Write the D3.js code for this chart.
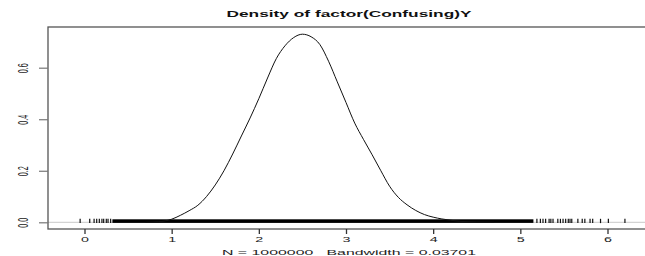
<!DOCTYPE html>
<html>
<head>
<meta charset="utf-8">
<script src="https://cdn.jsdelivr.net/npm/d3@7"></script>
<style>
  html, body { margin: 0; padding: 0; background: #fff; }
  svg { display: block; }
</style>
</head>
<body>
<div id="chart"></div>
<script>
// density estimate
var densX = [0.7, 0.85, 1.0, 1.1, 1.2, 1.3, 1.4, 1.5, 1.6, 1.7, 1.8, 1.9, 2.0, 2.1, 2.2, 2.3, 2.4, 2.5,
             2.6, 2.7, 2.8, 2.9, 3.0, 3.1, 3.2, 3.3, 3.4, 3.5, 3.6, 3.7, 3.8, 3.9, 4.0, 4.1, 4.2, 4.3, 4.5, 4.7];
var densY = [0, 0.002, 0.012, 0.027, 0.045, 0.066, 0.1, 0.145, 0.2, 0.265, 0.335, 0.405, 0.48, 0.56, 0.635, 0.685, 0.717, 0.73,
             0.72, 0.69, 0.625, 0.545, 0.465, 0.385, 0.322, 0.262, 0.2, 0.14, 0.097, 0.068, 0.046, 0.03, 0.02, 0.013, 0.008, 0.004, 0.001, 0];

// rug: a dense run plus loose ticks at both ends
var rugDense = [0.32, 5.15];
var rugLeft = [-0.05, 0.06, 0.11, 0.14, 0.17, 0.2, 0.22, 0.25, 0.27, 0.3];
var rugRight = [5.19, 5.23, 5.26, 5.29, 5.33, 5.35, 5.375, 5.43, 5.46, 5.49, 5.52, 5.55, 5.57, 5.59,
                5.66, 5.71, 5.74, 5.80, 5.83, 5.92, 6.01, 6.2];

var xTicks = [0, 1, 2, 3, 4, 5, 6];
var yTicks = [0, 0.2, 0.4, 0.6];
var mainTitle = "Density of factor(Confusing)Y";
var subTitle = "N = 1000000   Bandwidth = 0.03701";

var width = 645, height = 256;
var font = "'Liberation Sans', Arial, Helvetica, sans-serif";
var squash = 0.55;

var svg = d3.select("#chart").append("svg")
    .attr("width", width).attr("height", height);

var x = d3.scaleLinear().domain([0, 6]).range([84.5, 607.5]);
var y = d3.scaleLinear().domain([0, 0.6]).range([222.3, 67.7]);

var box = { left: 48, top: 27, bottom: 229, right: 670 };

// zero line
svg.append("line")
    .attr("x1", box.left).attr("x2", box.right)
    .attr("y1", y(0)).attr("y2", y(0))
    .attr("stroke", "#c8c8c8").attr("stroke-width", 1);

// rug
svg.append("rect")
    .attr("x", x(rugDense[0])).attr("width", x(rugDense[1]) - x(rugDense[0]))
    .attr("y", y(0) - 3).attr("height", 3.6)
    .attr("fill", "#000");

svg.append("g").selectAll("line")
    .data(rugLeft.concat(rugRight))
    .enter().append("line")
    .attr("x1", function(d) { return x(d); })
    .attr("x2", function(d) { return x(d); })
    .attr("y1", y(0) - 3.5).attr("y2", y(0) + 0.8)
    .attr("stroke", "#111").attr("stroke-width", 1.2);

// density curve
var pts = densX.map(function(d, i) { return [d, densY[i]]; });
svg.append("path")
    .datum(pts)
    .attr("fill", "none")
    .attr("stroke", "#111")
    .attr("stroke-width", 1)
    .attr("d", d3.line()
        .x(function(d) { return x(d[0]); })
        .y(function(d) { return y(d[1]); })
        .curve(d3.curveMonotoneX));

// box
svg.append("rect")
    .attr("x", box.left).attr("y", box.top)
    .attr("width", box.right - box.left).attr("height", box.bottom - box.top)
    .attr("fill", "none").attr("stroke", "#555").attr("stroke-width", 1.3);

// x axis
var xAxis = svg.append("g")
    .attr("transform", "translate(0," + box.bottom + ")")
    .call(d3.axisBottom(x).tickValues(xTicks).tickSizeOuter(0).tickSize(5).tickFormat(d3.format("d")));
xAxis.select(".domain").remove();
xAxis.selectAll("line").attr("stroke", "#333").attr("stroke-width", 1.3);
xAxis.selectAll("text")
    .attr("y", 0).attr("dy", 0)
    .attr("transform", "translate(0,13) scale(1.1," + squash + ")")
    .attr("font-family", font).attr("font-size", 13).attr("fill", "#222");

// y axis
var yAxis = svg.append("g")
    .attr("transform", "translate(" + box.left + ",0)")
    .call(d3.axisLeft(y).tickValues(yTicks).tickSizeOuter(0).tickSize(9).tickFormat(d3.format(".1f")));
yAxis.select(".domain").remove();
yAxis.selectAll("line").attr("stroke", "#777").attr("stroke-width", 1.2);
yAxis.selectAll("text")
    .attr("x", 0).attr("dy", 0)
    .attr("text-anchor", "middle")
    .attr("transform", "translate(-20,0) rotate(-90) scale(" + squash + ",1.1)")
    .attr("font-family", font).attr("font-size", 13).attr("fill", "#222");

// titles
svg.append("g")
    .attr("transform", "translate(349,17) scale(1,0.6)")
    .append("text")
    .attr("text-anchor", "middle")
    .attr("font-family", font).attr("font-size", 15).attr("font-weight", "bold")
    .attr("textLength", 245).attr("lengthAdjust", "spacingAndGlyphs")
    .attr("fill", "#111")
    .text(mainTitle);

svg.append("g")
    .attr("transform", "translate(349,255) scale(1," + squash + ")")
    .append("text")
    .attr("text-anchor", "middle")
    .attr("font-family", font).attr("font-size", 13)
    .attr("textLength", 254).attr("lengthAdjust", "spacingAndGlyphs")
    .attr("fill", "#222")
    .attr("xml:space", "preserve")
    .style("white-space", "pre")
    .text(subTitle);
</script>
</body>
</html>
